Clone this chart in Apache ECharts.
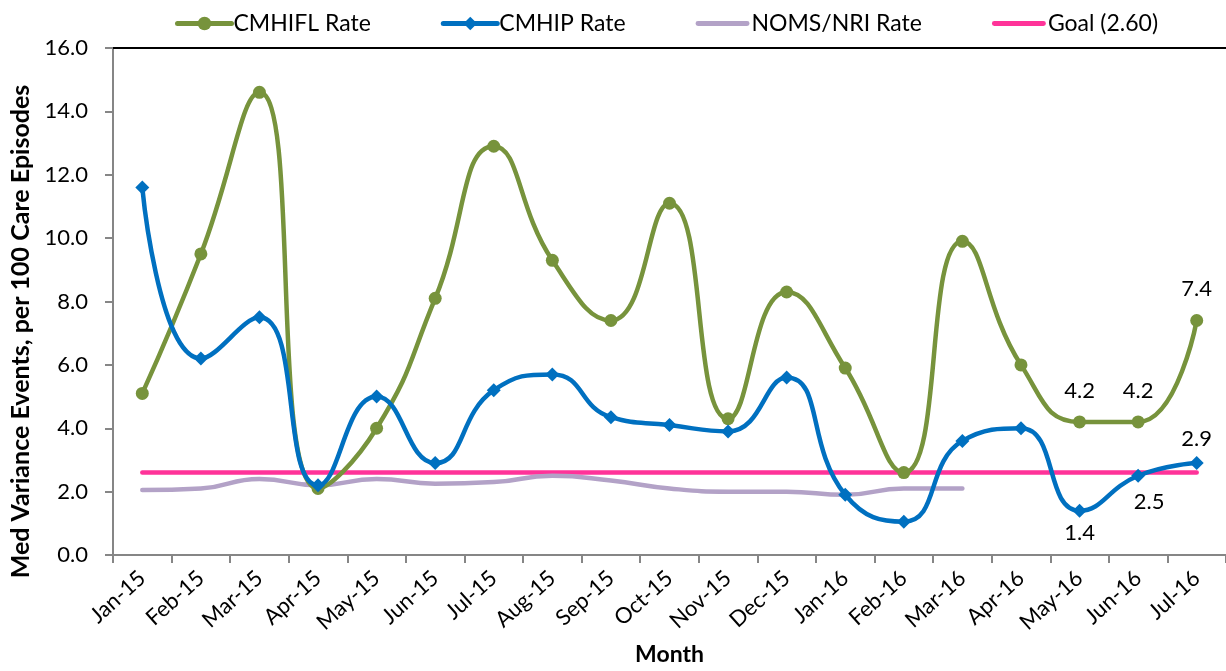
<!DOCTYPE html>
<html>
<head>
<meta charset="utf-8">
<script src="https://cdn.jsdelivr.net/npm/echarts@6/dist/echarts.min.js"></script>
<style>
  html, body { margin: 0; padding: 0; background: #fff; }
  #chart { width: 1226px; height: 671px; }
</style>
</head>
<body>
<div id="chart"></div>
<script>
// Monthly medication variance rates per 100 care episodes
const months = ['Jan-15','Feb-15','Mar-15','Apr-15','May-15','Jun-15','Jul-15','Aug-15','Sep-15',
  'Oct-15','Nov-15','Dec-15','Jan-16','Feb-16','Mar-16','Apr-16','May-16','Jun-16','Jul-16'];
const cmhiflRate = [5.1, 9.5, 14.6, 2.1, 4.0, 8.1, 12.9, 9.3, 7.4, 11.1, 4.3, 8.3, 5.9, 2.6, 9.9, 6.0, 4.2, 4.2, 7.4];
const cmhipRate  = [11.6, 6.2, 7.5, 2.2, 5.0, 2.9, 5.2, 5.7, 4.35, 4.1, 3.9, 5.6, 1.9, 1.05, 3.6, 4.0, 1.4, 2.5, 2.9];
const nomsRate   = [2.05, 2.1, 2.4, 2.2, 2.4, 2.25, 2.3, 2.5, 2.35, 2.1, 2.0, 2.0, 1.9, 2.1, 2.1, null, null, null, null];
const goalRate   = [2.6, 2.6, 2.6, 2.6, 2.6, 2.6, 2.6, 2.6, 2.6, 2.6, 2.6, 2.6, 2.6, 2.6, 2.6, 2.6, 2.6, 2.6, 2.6];
const yTicks = { min: 0, max: 16, step: 2 };

const FONT = 'Lato, "Open Sans", sans-serif';
const BAR_ICON = 'path://M2,0 H52 A2,2 0 0 1 52,5 H2 A2,2 0 0 1 2,0 Z';

// value labels shown on the latest months
const greenLabels = {
  16: { position: 'top', distance: 14 },
  17: { position: 'top', distance: 14 },
  18: { position: 'top', distance: 14 }
};
const blueLabels = {
  16: { position: 'bottom', distance: 4 },
  17: { position: 'bottom', distance: 8, offset: [11, 0] },
  18: { position: 'top', distance: 6 }
};

function withLabels(values, labels) {
  return values.map((v, i) => {
    if (!labels[i]) return v;
    return {
      value: v,
      label: Object.assign({
        show: true,
        fontFamily: FONT,
        fontSize: 22,
        color: '#000',
        formatter: p => Number(p.value).toFixed(1)
      }, labels[i])
    };
  });
}

const chart = echarts.init(document.getElementById('chart'), null, { renderer: 'canvas' });

chart.setOption({
  animation: false,
  backgroundColor: '#fff',
  textStyle: { fontFamily: FONT },
  legend: {
    top: 7,
    left: 170,
    itemGap: 70,
    itemWidth: 54,
    itemHeight: 17,
    lineStyle: { width: 5 },
    textStyle: { fontFamily: FONT, fontSize: 23, color: '#000', padding: [0, 0, 0, -3] },
    data: [
      { name: 'CMHIFL Rate' },
      { name: 'CMHIP Rate' },
      { name: 'NOMS/NRI Rate', icon: BAR_ICON },
      { name: 'Goal (2.60)', icon: BAR_ICON }
    ]
  },
  grid: { left: 113, top: 48, width: 1115, bottom: 113, containLabel: false },
  xAxis: [{
    type: 'category',
    data: months,
    boundaryGap: true,
    name: 'Month',
    nameLocation: 'middle',
    nameGap: 88,
    nameTextStyle: { fontFamily: FONT, fontSize: 23, fontWeight: 'bold', color: '#000' },
    axisLine: { lineStyle: { color: '#868686', width: 2 } },
    axisTick: { show: true, length: 8, lineStyle: { color: '#868686', width: 2 } },
    axisLabel: { rotate: 42, interval: 0, margin: 20, fontFamily: FONT, fontSize: 22, color: '#000' },
    splitLine: { show: false }
  }, {
    type: 'category',
    data: months,
    position: 'top',
    axisLine: { lineStyle: { color: '#000', width: 2 } },
    axisTick: { show: false },
    axisLabel: { show: false },
    splitLine: { show: false }
  }],
  yAxis: {
    type: 'value',
    min: yTicks.min,
    max: yTicks.max,
    interval: yTicks.step,
    name: 'Med Variance Events, per 100 Care Episodes',
    nameLocation: 'middle',
    nameRotate: 90,
    nameGap: 80,
    nameTextStyle: { fontFamily: FONT, fontSize: 25, fontWeight: 'bold', color: '#000', padding: [0, 60, 0, 0] },
    axisLine: { show: true, lineStyle: { color: '#868686', width: 2 } },
    axisTick: { show: true, length: 8, lineStyle: { color: '#868686', width: 2 } },
    axisLabel: { margin: 25, fontFamily: FONT, fontSize: 22, color: '#000', formatter: v => v.toFixed(1) },
    splitLine: { show: false }
  },
  series: [
    {
      name: 'Goal (2.60)',
      type: 'line',
      data: goalRate,
      symbol: 'none',
      z: 1,
      lineStyle: { color: '#FF3399', width: 4.5, cap: 'round' },
      itemStyle: { color: '#FF3399' }
    },
    {
      name: 'NOMS/NRI Rate',
      type: 'line',
      data: nomsRate,
      smooth: 0.5,
      symbol: 'none',
      z: 2,
      lineStyle: { color: '#B3A2C7', width: 4.5, cap: 'round' },
      itemStyle: { color: '#B3A2C7' }
    },
    {
      name: 'CMHIFL Rate',
      type: 'line',
      data: withLabels(cmhiflRate, greenLabels),
      smooth: 0.5,
      symbol: 'circle',
      symbolSize: 13,
      z: 3,
      lineStyle: { color: '#77933C', width: 4.5, cap: 'round' },
      itemStyle: { color: '#77933C' }
    },
    {
      name: 'CMHIP Rate',
      type: 'line',
      data: withLabels(cmhipRate, blueLabels),
      smooth: 0.5,
      symbol: 'diamond',
      symbolSize: 14,
      z: 4,
      lineStyle: { color: '#0070C0', width: 4.5, cap: 'round' },
      itemStyle: { color: '#0070C0' }
    }
  ]
});
</script>
</body>
</html>
